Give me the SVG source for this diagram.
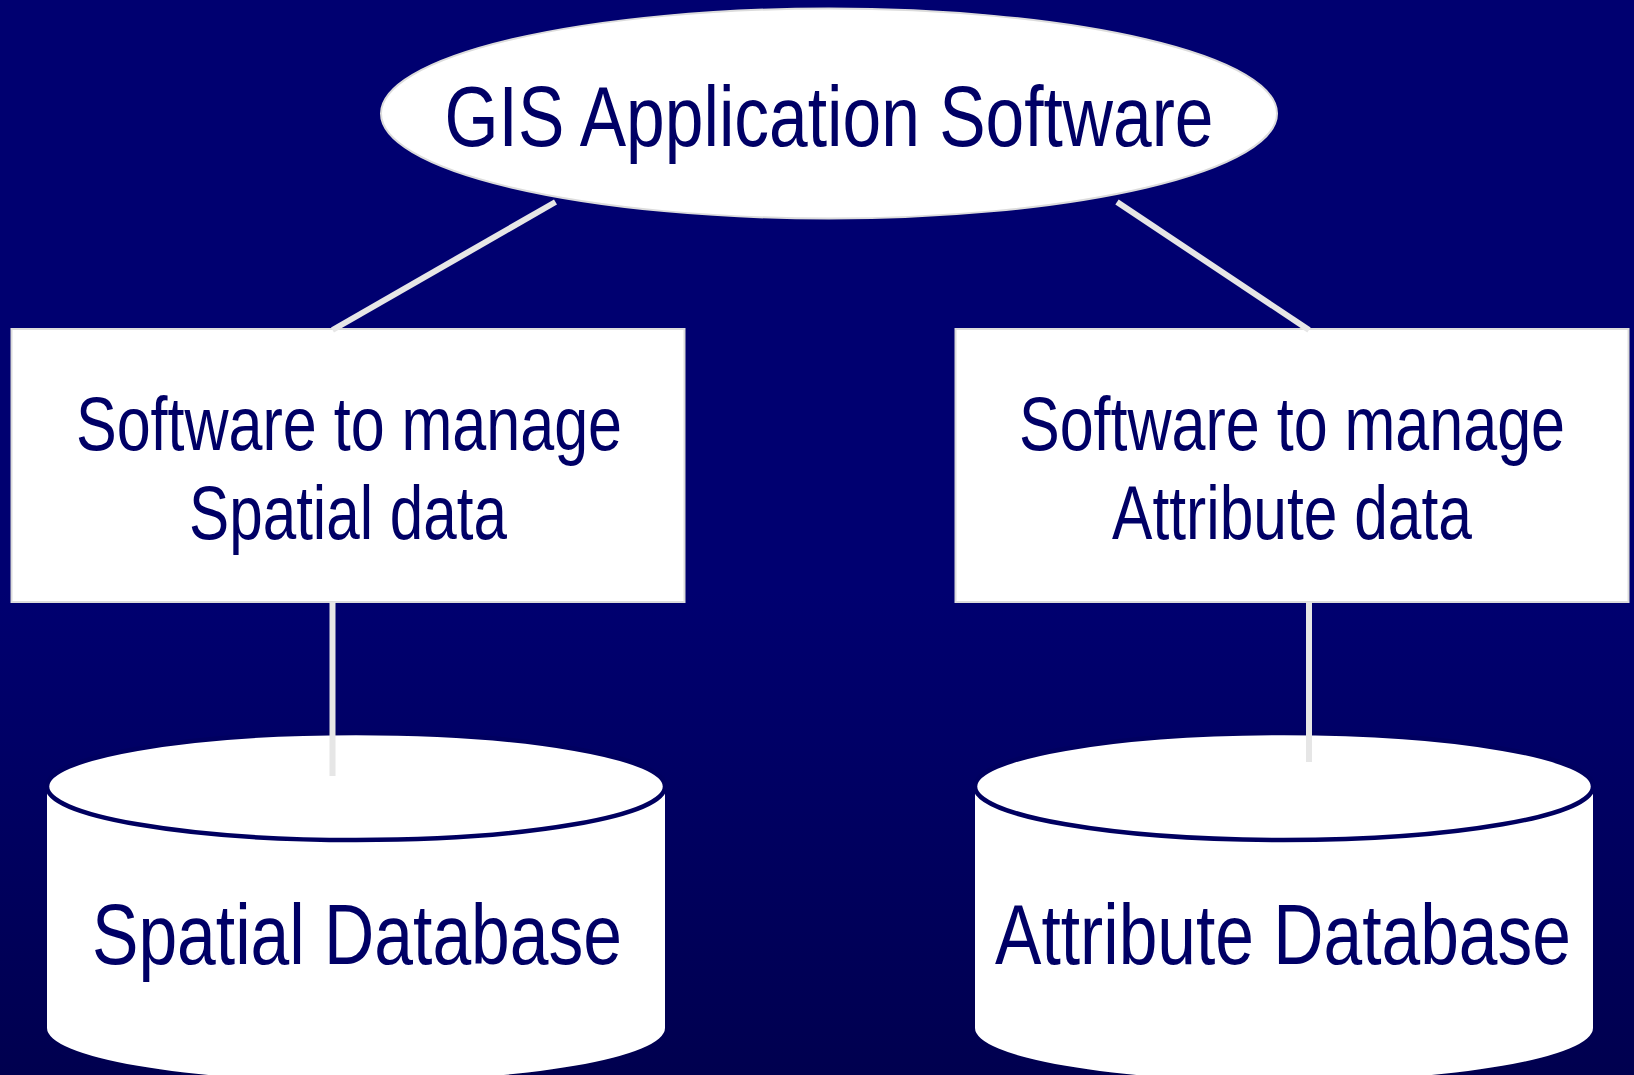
<svg xmlns="http://www.w3.org/2000/svg" width="1634" height="1075" viewBox="0 0 1634 1075">
  <defs>
    <linearGradient id="bg" x1="0" y1="0" x2="0" y2="1">
      <stop offset="0" stop-color="#000070"/>
      <stop offset="0.55" stop-color="#000070"/>
      <stop offset="1" stop-color="#00004f"/>
    </linearGradient>
    <style>
      .lbl { font-family: "Liberation Sans", Arial, sans-serif; fill: #000066; text-anchor: middle; }
      .big { font-size: 85px; }
      .mid { font-size: 76px; }
      .box { fill: #ffffff; stroke: #dcdcdc; stroke-width: 2; }
      .body { fill: #ffffff; stroke: none; }
      .lid { fill: #ffffff; stroke: #000060; stroke-width: 4.5; }
      .link { stroke: #e6e6e6; stroke-width: 6; fill: none; }
    </style>
  </defs>

  <rect x="0" y="0" width="1634" height="1075" fill="url(#bg)"/>

  <!-- top application ellipse; labels are narrowed with a horizontal scale -->
  <g id="gis-app">
    <ellipse cx="829" cy="113.5" rx="448" ry="105" fill="#ffffff" stroke="#dcdcdc" stroke-width="2"/>
    <text class="lbl big" transform="translate(829,146) scale(0.818,1)">GIS Application Software</text>
  </g>

  <!-- spatial data manager -->
  <g id="spatial-software">
    <rect class="box" x="11.5" y="329" width="673" height="273"/>
    <text class="lbl mid" transform="translate(349,450) scale(0.803,1)">Software to manage</text>
    <text class="lbl mid" transform="translate(348,539) scale(0.792,1)">Spatial data</text>
  </g>

  <!-- attribute data manager -->
  <g id="attribute-software">
    <rect class="box" x="955.5" y="329" width="673" height="273"/>
    <text class="lbl mid" transform="translate(1292,450) scale(0.803,1)">Software to manage</text>
    <text class="lbl mid" transform="translate(1292,539) scale(0.796,1)">Attribute data</text>
  </g>

  <!-- spatial database cylinder -->
  <g id="spatial-db">
    <path class="body" d="M47,786.5 V1028 A309,53.5 0 0 0 665,1028 V786.5 Z"/>
    <ellipse class="lid" cx="356" cy="786.5" rx="309" ry="53.5"/>
    <text class="lbl big" transform="translate(357,964) scale(0.819,1)">Spatial Database</text>
  </g>

  <!-- attribute database cylinder -->
  <g id="attribute-db">
    <path class="body" d="M975,786.5 V1028 A309,53.5 0 0 0 1593,1028 V786.5 Z"/>
    <ellipse class="lid" cx="1284" cy="786.5" rx="309" ry="53.5"/>
    <text class="lbl big" transform="translate(1283,964) scale(0.818,1)">Attribute Database</text>
  </g>

  <!-- connectors, drawn last so they run over the cylinder lids -->
  <g id="connectors">
    <line class="link" x1="555.5" y1="202" x2="332.5" y2="330"/>
    <line class="link" x1="1117" y1="202" x2="1309" y2="330"/>
    <line class="link" x1="332.5" y1="602" x2="332.5" y2="776"/>
    <line class="link" x1="1309" y1="602" x2="1309" y2="762"/>
  </g>
</svg>
